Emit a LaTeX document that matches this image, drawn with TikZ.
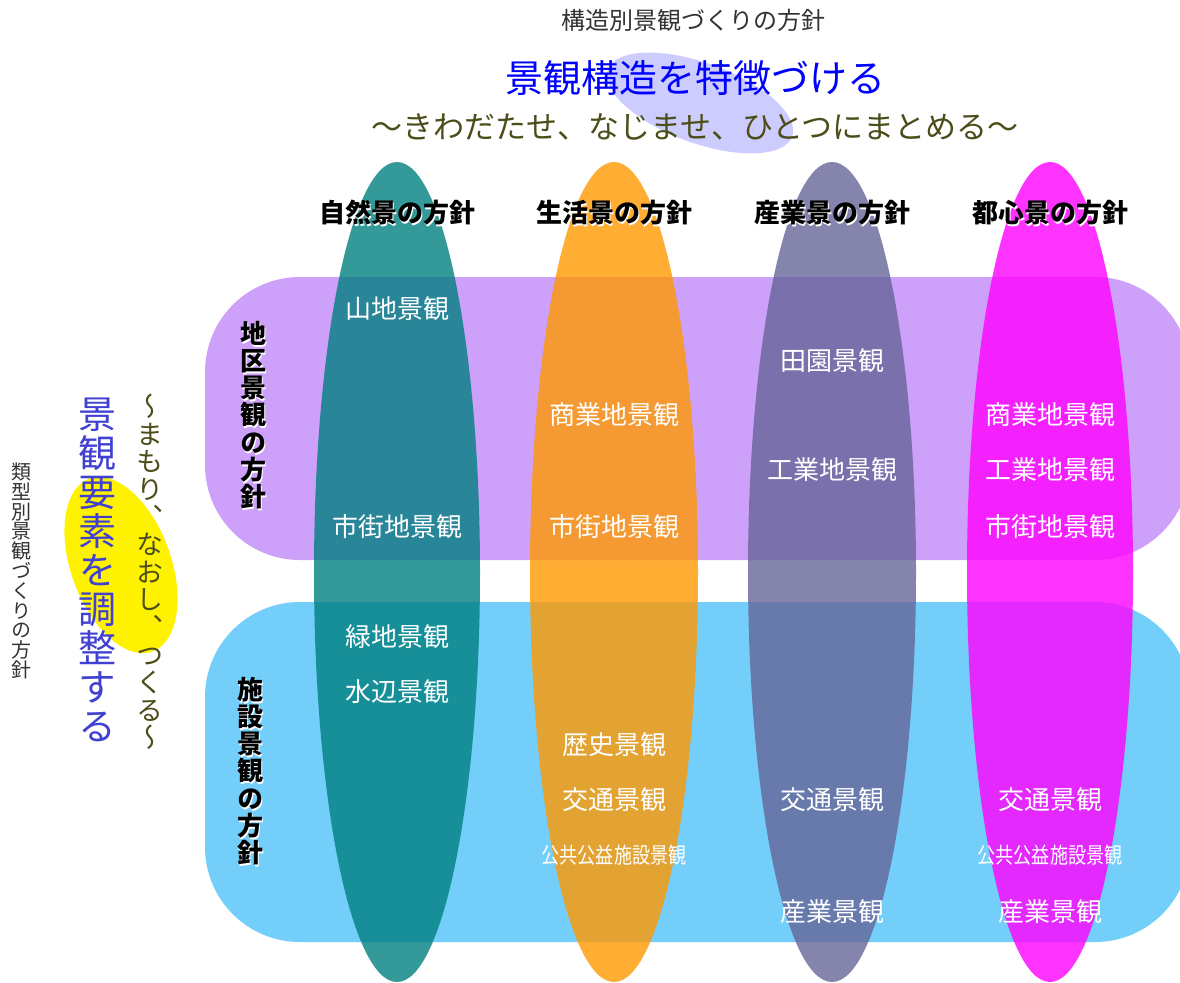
\documentclass[tikz,border=0pt]{standalone}
\usepackage{fontspec}
\setmainfont{Noto Sans CJK JP}
\newfontfamily\jpv[RawFeature=+vert]{Noto Sans CJK JP}
\definecolor{bandpurple}{RGB}{205,160,250}
\definecolor{bandblue}{RGB}{116,206,250}
\definecolor{titleblob}{RGB}{204,204,255}
\definecolor{colteal}{RGB}{0,128,128}
\definecolor{colorange}{RGB}{255,153,0}
\definecolor{colslate}{RGB}{102,102,153}
\definecolor{colmagenta}{RGB}{255,0,255}
\definecolor{olive}{RGB}{77,77,26}
\definecolor{leftblue}{RGB}{64,64,210}
\definecolor{darkgray}{RGB}{51,51,51}
\tikzset{
    cell/.style={text=white, inner sep=0pt, font=\fontsize{26}{26}\selectfont},
    smallcell/.style={text=white, inner sep=0pt, xscale=0.82, transform shape, font=\fontsize{22}{22}\selectfont},
    head/.style={inner sep=0pt, font=\fontsize{26}{26}\selectfont\bfseries},
    headshadow/.style={head, text=white},
    rowhead/.style={inner sep=0pt, align=center, font=\jpv\fontsize{26}{27.2}\selectfont\bfseries},
    rowshadow/.style={rowhead, text=white},
}
\begin{document}
\begin{tikzpicture}[x=1pt,y=-1pt]
    \useasboundingbox (0,0) rectangle (1180,982);
    \clip (0,0) rectangle (1180,982);
    \fill[white] (0,0) rectangle (1180,982);
    % highlight blobs
    \fill[titleblob,rotate around={-20:(700,103)}] (700,103) ellipse [x radius=98,y radius=40];
    \fill[yellow,rotate around={20:(121,565)}] (121,565) ellipse [x radius=50,y radius=92];
    % bands
    \fill[bandpurple,rounded corners=95] (205,277) rectangle (1190,560);
    \fill[bandblue,rounded corners=95] (205,602) rectangle (1190,942);
    % columns
    \fill[colteal,opacity=.8] (397,572) ellipse [x radius=83,y radius=410];
    \fill[colorange,opacity=.8] (614,572) ellipse [x radius=84,y radius=410];
    \fill[colslate,opacity=.8] (832,572) ellipse [x radius=84,y radius=410];
    \fill[colmagenta,opacity=.8] (1050,572) ellipse [x radius=83,y radius=410];
    % titles
    \node[text=darkgray, font=\fontsize{24}{24}\selectfont] (toptitle) at (693,20) {構造別景観づくりの方針};
    \node[text=blue, font=\fontsize{38}{38}\selectfont] (maintitle) at (695,78) {景観構造を特徴づける};
    \node[text=olive, font=\fontsize{31}{31}\selectfont] (subtitle) at (695,127) {〜きわだたせ、なじませ、ひとつにまとめる〜};
    \node[text=darkgray, align=center, inner sep=0pt, font=\jpv\fontsize{20}{19.8}\selectfont] (lefttitle) at (22,571) {類\\型\\別\\景\\観\\づ\\く\\り\\の\\方\\針};
    \node[text=leftblue, align=center, inner sep=0pt, font=\jpv\fontsize{38}{39}\selectfont] (leftmain) at (97,570) {景\\観\\要\\素\\を\\調\\整\\す\\る};
    \node[text=olive, align=center, inner sep=0pt, font=\jpv\fontsize{27}{27.6}\selectfont] (leftsub) at (150,572) {〜\\ま\\も\\り\\、\\な\\お\\し\\、\\つ\\く\\る\\〜};
    % column heads
    \foreach \x/\t [count=\i] in {397/自然景の方針, 614/生活景の方針, 832/産業景の方針, 1050/都心景の方針} {
        \node[headshadow] (head\i s) at (\x+1,215) {\t};
        \node[head] (head\i) at (\x,213) {\t};
    }
    % row heads
    \node[rowshadow] (districts) at (254,417) {地\\区\\景\\観\\の\\方\\針};
    \node[rowhead] (district) at (253,415) {地\\区\\景\\観\\の\\方\\針};
    \node[rowshadow] (facilitys) at (251,773) {施\\設\\景\\観\\の\\方\\針};
    \node[rowhead] (facility) at (250,771) {施\\設\\景\\観\\の\\方\\針};
    % natural
    \node[cell] (natmount) at (397,309) {山地景観};
    \node[cell] (nattown) at (397,527) {市街地景観};
    \node[cell] (natgreen) at (397,637) {緑地景観};
    \node[cell] (natwater) at (397,692) {水辺景観};
    % living
    \node[cell] (livcommerce) at (614,415) {商業地景観};
    \node[cell] (livtown) at (614,527) {市街地景観};
    \node[cell] (livhistory) at (614,745) {歴史景観};
    \node[cell] (livtraffic) at (614,800) {交通景観};
    \node[smallcell] (livpublic) at (614,855) {公共公益施設景観};
    % industry
    \node[cell] (indfarm) at (832,361) {田園景観};
    \node[cell] (indfactory) at (832,470) {工業地景観};
    \node[cell] (indtraffic) at (832,800) {交通景観};
    \node[cell] (indindustry) at (832,912) {産業景観};
    % urban core
    \node[cell] (urbcommerce) at (1050,415) {商業地景観};
    \node[cell] (urbfactory) at (1050,470) {工業地景観};
    \node[cell] (urbtown) at (1050,527) {市街地景観};
    \node[cell] (urbtraffic) at (1050,800) {交通景観};
    \node[smallcell] (urbpublic) at (1050,855) {公共公益施設景観};
    \node[cell] (urbindustry) at (1050,912) {産業景観};
\end{tikzpicture}
\end{document}
